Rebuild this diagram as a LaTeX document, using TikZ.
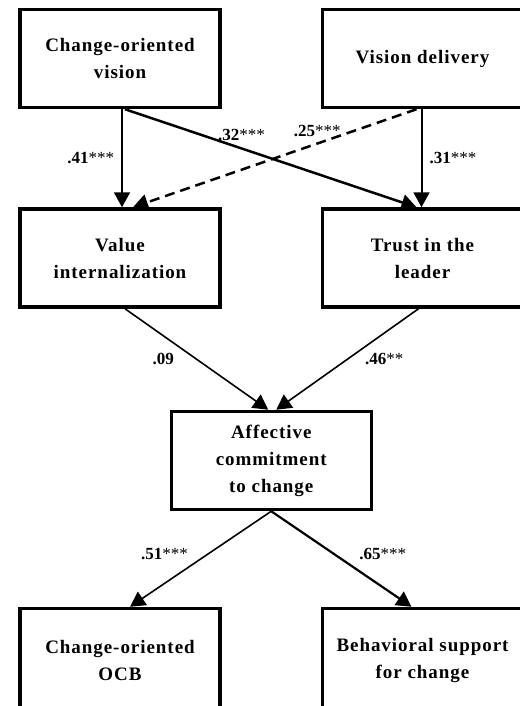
\documentclass[tikz,border=0pt]{standalone}
\usepackage{fontspec}
\setmainfont{Liberation Serif}
\newfontfamily\boxfont[LetterSpace=5]{Liberation Serif}
\usetikzlibrary{arrows.meta,positioning,calc}
\tikzset{
  box/.style={draw=black,fill=white,line width=3.5pt,minimum width=200pt,
    minimum height=98pt,align=center,font=\boxfont\bfseries\fontsize{19}{27}\selectfont},
  patharrow/.style={-{Triangle[length=15pt,width=16pt]},line width=2pt,black},
  dasharrow/.style={-{Triangle[length=15pt,width=16pt]},line width=2.5pt,black,
    dash pattern=on 10pt off 6pt},
  coef/.style={font=\bfseries\fontsize{17}{19}\selectfont,inner sep=2pt}
}

\begin{document}
\begin{tikzpicture}[x=1pt,y=1pt,node distance=98pt and 99pt]
  \useasboundingbox (0,0) rectangle (519,-706);
  \node[box] (cov) at (120,-58.5) {Change-oriented\\vision};
  \node[box,right=of cov] (vd) {Vision delivery};
  \node[box,below=of cov] (vi) {Value\\internalization};
  \node[box,right=of vi] (tl) {Trust in the\\leader};
  \node[box,below=101pt of $(vi.south)!0.5!(tl.south)$] (aff) {Affective\\commitment\\to change};
  \node[box,below=298pt of vi,minimum height=104pt] (ocb) {Change-oriented\\OCB};
  \node[box,right=of ocb,minimum height=104pt] (bs) {Behavioral support\\for change};
  % paths from the two vision nodes
  \draw[patharrow] ($(cov.south)+(2,0)$) -- node[coef,midway,left=5pt]{.41{\mdseries***}} ($(vi.north)+(2,0)$);
  \draw[patharrow] ($(vd.south)+(-1,0)$) -- node[coef,midway,right=5pt]{.31{\mdseries***}} ($(tl.north)+(-1,0)$);
  \draw[patharrow,line width=2.5pt] ($(cov.south)+(5,0)$) -- node[coef,pos=0.4,above=4pt]{.32{\mdseries***}} ($(tl.north)+(-6,0)$);
  \draw[dasharrow] ($(vd.south)+(-6,0)$) -- node[coef,pos=0.35,above=4pt]{.25{\mdseries***}} ($(vi.north)+(13,0)$);
  % mediators to commitment
  \draw[patharrow,line width=1.6pt] ($(vi.south)+(5,0)$) -- node[coef,midway,left=20pt]{.09} ($(aff.north)+(-3,0)$);
  \draw[patharrow,line width=1.6pt] ($(tl.south)+(-4,0)$) -- node[coef,midway,right=15pt]{.46{\mdseries**}} ($(aff.north)+(5,0)$);
  % outcomes
  \draw[patharrow,line width=1.6pt] (aff.south) -- node[coef,pos=0.45,left=17pt]{.51{\mdseries***}} ($(ocb.north)+(10,0)$);
  \draw[patharrow,line width=2.2pt] (aff.south) -- node[coef,pos=0.45,right=22pt]{.65{\mdseries***}} ($(bs.north)+(-11,0)$);
\end{tikzpicture}
\end{document}
